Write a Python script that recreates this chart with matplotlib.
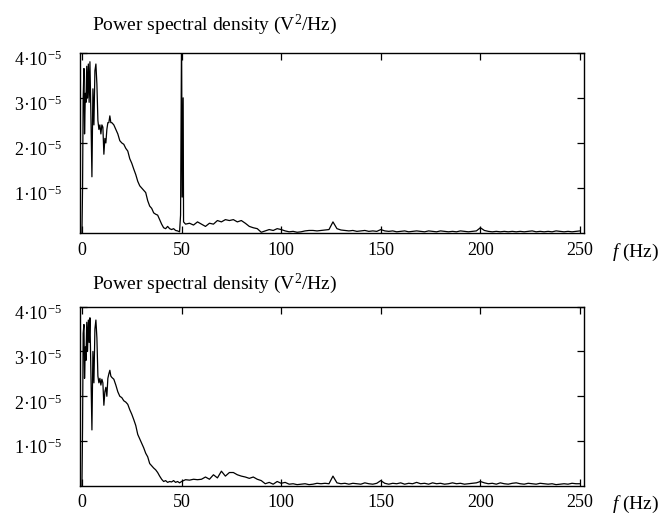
import matplotlib
matplotlib.use("Agg")
import matplotlib.pyplot as plt
import matplotlib.transforms as mtransforms
import numpy as np

plt.rcParams['font.family'] = 'Liberation Serif'
plt.rcParams['font.size'] = 14
plt.rcParams['xtick.labelsize'] = 13
plt.rcParams['ytick.labelsize'] = 13
plt.rcParams['mathtext.fontset'] = 'custom'
plt.rcParams['mathtext.rm'] = 'Liberation Serif'
plt.rcParams['mathtext.it'] = 'Liberation Serif:italic'

# PSD values, in units of 1e-5 V^2/Hz
# frequencies (Hz) of the fine low-frequency part
f_low = [0, 0.3, 0.6, 1.0, 1.3, 1.7, 2.0, 2.4, 2.8, 3.2,
         3.6, 4.0, 4.5, 5.0, 5.5, 6.0, 6.5, 7.0, 7.5, 8.0,
         8.5, 9.0, 9.5, 10.0, 10.5, 11.0, 11.5, 12.0, 12.5, 13.0,
         13.5, 14.0, 14.5, 15]
f_mid = np.arange(16, 50, 1)          # 16 .. 49 Hz
f_spike = [49.5, 50, 50.3, 50.8, 51]  # mains line, upper panel only
f_tail_top = np.arange(52, 251, 2)    # 52 .. 250 Hz
f_tail_bot = np.arange(50, 251, 2)    # 50 .. 250 Hz

# upper panel
top_low = [0.0, 1.0, 3.0, 3.65, 2.2, 3.1, 2.9, 3.7, 3.0, 3.75,
           2.9, 3.8, 2.6, 1.25, 3.2, 2.4, 3.6, 3.75, 3.3, 2.5,
           2.3, 2.4, 2.2, 2.4, 2.35, 1.75, 2.1, 2.0, 2.3, 2.45,
           2.45, 2.6, 2.45, 2.45]
top_mid = [2.4, 2.3, 2.2, 2.05, 2.0, 1.97, 1.88, 1.82, 1.65, 1.55,
           1.42, 1.3, 1.15, 1.05, 1.0, 0.95, 0.9, 0.72, 0.6, 0.55,
           0.45, 0.42, 0.4, 0.3, 0.2, 0.12, 0.1, 0.15, 0.1, 0.08,
           0.1, 0.06, 0.05, 0.03]
top_spike = [0.4, 4.5, 0.8, 3.0, 0.25]
top_tail = [0.2, 0.22, 0.18, 0.25, 0.2, 0.15, 0.22, 0.2, 0.28, 0.25,
            0.3, 0.28, 0.3, 0.25, 0.28, 0.22, 0.15, 0.12, 0.1, 0.02,
            0.05, 0.08, 0.06, 0.1, 0.08, 0.05, 0.03, 0.04, 0.02, 0.03,
            0.05, 0.06, 0.06, 0.05, 0.06, 0.07, 0.08, 0.25, 0.1, 0.07,
            0.06, 0.05, 0.06, 0.04, 0.05, 0.06, 0.04, 0.05, 0.04, 0.08,
            0.05, 0.04, 0.05, 0.03, 0.04, 0.05, 0.03, 0.04, 0.05, 0.04,
            0.03, 0.05, 0.04, 0.03, 0.05, 0.04, 0.03, 0.04, 0.03, 0.05,
            0.04, 0.03, 0.04, 0.05, 0.12, 0.06, 0.04, 0.03, 0.04, 0.03,
            0.04, 0.03, 0.04, 0.03, 0.04, 0.03, 0.04, 0.05, 0.03, 0.04,
            0.03, 0.04, 0.03, 0.05, 0.04, 0.03, 0.04, 0.03, 0.04, 0.05]

# lower panel (mains line removed)
bot_low = [0.0, 1.3, 3.4, 3.6, 2.4, 3.1, 2.8, 3.65, 3.0, 3.7,
           3.2, 3.75, 2.5, 1.25, 3.0, 2.3, 3.5, 3.7, 3.3, 2.45,
           2.3, 2.4, 2.25, 2.38, 2.3, 1.8, 2.1, 2.2, 2.0, 2.4,
           2.5, 2.58, 2.45, 2.42]
bot_mid = [2.38, 2.25, 2.1, 2.0, 1.97, 1.9, 1.87, 1.82, 1.7, 1.6,
           1.48, 1.35, 1.15, 1.05, 0.95, 0.85, 0.73, 0.65, 0.5, 0.45,
           0.4, 0.36, 0.3, 0.22, 0.15, 0.1, 0.12, 0.08, 0.1, 0.09,
           0.12, 0.08, 0.1, 0.07]
bot_tail = [0.1, 0.14, 0.13, 0.15, 0.14, 0.15, 0.2, 0.15, 0.25, 0.18,
            0.33, 0.22, 0.3, 0.3, 0.25, 0.22, 0.2, 0.17, 0.2, 0.15,
            0.12, 0.05, 0.08, 0.04, 0.1, 0.06, 0.08, 0.04, 0.05, 0.03,
            0.04, 0.05, 0.03, 0.04, 0.06, 0.05, 0.06, 0.05, 0.22, 0.07,
            0.05, 0.06, 0.04, 0.06, 0.05, 0.04, 0.07, 0.05, 0.04, 0.06,
            0.12, 0.06, 0.04, 0.06, 0.05, 0.07, 0.04, 0.06, 0.05, 0.08,
            0.05, 0.06, 0.04, 0.07, 0.05, 0.06, 0.04, 0.05, 0.07, 0.05,
            0.06, 0.04, 0.05, 0.06, 0.07, 0.1, 0.07, 0.05, 0.06, 0.04,
            0.07, 0.05, 0.04, 0.06, 0.07, 0.05, 0.04, 0.06, 0.05, 0.04,
            0.06, 0.05, 0.04, 0.05, 0.03, 0.04, 0.05, 0.04, 0.06, 0.05,
            0.05]

f_top = np.concatenate([f_low, f_mid, f_spike, f_tail_top])
psd_top = np.concatenate([top_low, top_mid, top_spike, top_tail])
f_bot = np.concatenate([f_low, f_mid, f_tail_bot])
psd_bot = np.concatenate([bot_low, bot_mid, bot_tail])

y_ticks = [1, 2, 3, 4]
y_labels = ['1·10$^{-5}$', '2·10$^{-5}$', '3·10$^{-5}$', '4·10$^{-5}$']
x_ticks = [0, 50, 100, 150, 200, 250]
title = 'Power spectral density (V$^2$/Hz)'

fig = plt.figure(figsize=(6.72, 5.17), dpi=100)
ax1 = fig.add_axes([0.119, 0.549, 0.750, 0.349])
ax2 = fig.add_axes([0.119, 0.060, 0.750, 0.347])

# baseline of each panel's heading, in figure fraction
title_y = [0.942, 0.441]

# y tick labels sit a little below their ticks in the original
shift_down = mtransforms.ScaledTranslation(0, -4 / 72, fig.dpi_scale_trans)

for ax, f, p, ty in [(ax1, f_top, psd_top, title_y[0]),
                     (ax2, f_bot, psd_bot, title_y[1])]:
    ax.plot(f, p * 1e-5, color='black', lw=0.9)
    ax.set_xlim(-1, 252)
    ax.set_ylim(0, 4e-5)
    ax.tick_params(direction='in', length=5, width=0.9, top=True, right=True,
                   colors='black')
    ax.tick_params(axis='y', pad=13)
    ax.tick_params(axis='x', pad=6)
    ax.set_yticks([v * 1e-5 for v in y_ticks])
    ax.set_yticklabels(y_labels, fontsize=13)
    ax.set_xticks(x_ticks)
    ax.set_xticklabels([str(t) for t in x_ticks], fontsize=13)
    for lab in ax.get_yticklabels():
        lab.set_transform(lab.get_transform() + shift_down)
    for s in ax.spines.values():
        s.set_linewidth(1.0)
    fig.text(0.137, ty, title, fontsize=14, ha='left', va='baseline')
    ax.annotate('$f$ (Hz)', xy=(1, 0), xycoords='axes fraction',
                xytext=(20, -6), textcoords='offset points',
                fontsize=14, ha='left', va='top')

fig.savefig('out.png', dpi=100)
